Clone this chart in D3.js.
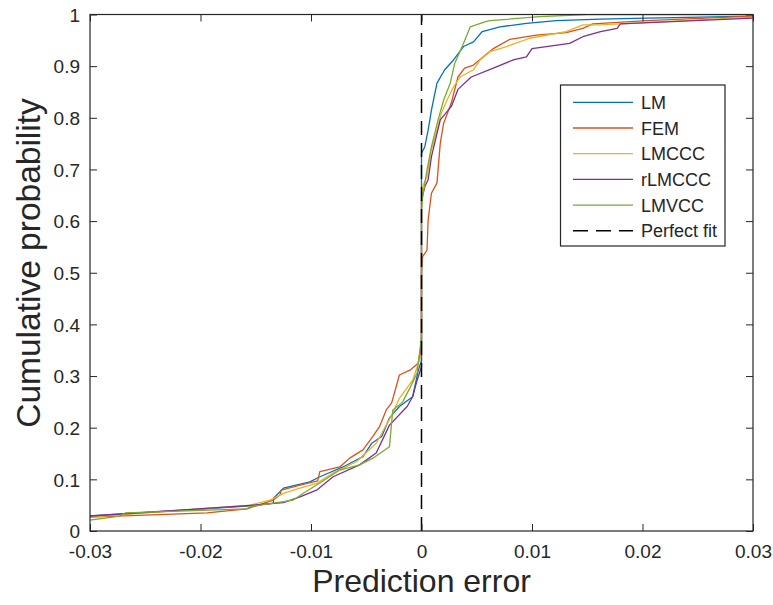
<!DOCTYPE html>
<html><head><meta charset="utf-8">
<script src="https://cdn.jsdelivr.net/npm/d3@7"></script>
<style>
body{margin:0;background:#fff}
svg{display:block}
text{font-family:"Liberation Sans",Arial,Helvetica,sans-serif;fill:#262626}
</style>
</head><body>
<svg id="chart" width="773" height="605"></svg>
<script>
// ---- data ----
const seriesNames = ["LM", "FEM", "LMCCC", "rLMCCC", "LMVCC"];
const seriesColors = ["#0072BD", "#D95319", "#EDB120", "#7E2F8E", "#77AC30"];

const LM = [[-0.03,0.029],[-0.0158,0.048],[-0.0134,0.054],[-0.0134,0.063],[-0.0125,0.083],[-0.0101,0.095],[-0.0092,0.105],[-0.0071,0.124],[-0.0062,0.134],[-0.0053,0.144],[-0.0045,0.170],[-0.0036,0.183],[-0.0029,0.219],[-0.0020,0.241],[-0.0008,0.260],[-0.0003,0.310],[0.0,0.33],[0.0,0.731],[0.0003,0.744],[0.0006,0.776],[0.0009,0.815],[0.0014,0.867],[0.0021,0.893],[0.0029,0.912],[0.0038,0.938],[0.0047,0.947],[0.0055,0.967],[0.0071,0.976],[0.0095,0.983],[0.0122,0.988],[0.0162,0.991],[0.0204,0.993],[0.03,0.997]];

const FEM = [[-0.03,0.027],[-0.0194,0.035],[-0.0158,0.043],[-0.0134,0.060],[-0.0128,0.070],[-0.0127,0.079],[-0.0110,0.089],[-0.0094,0.097],[-0.0092,0.115],[-0.0074,0.124],[-0.0065,0.141],[-0.0053,0.157],[-0.0044,0.183],[-0.0038,0.202],[-0.0032,0.234],[-0.0027,0.248],[-0.0020,0.302],[-0.0010,0.312],[-0.0003,0.325],[-0.0001,0.350],[0.0,0.370],[0.0,0.500],[0.0001,0.531],[0.0005,0.544],[0.0006,0.602],[0.0009,0.654],[0.0014,0.674],[0.0017,0.751],[0.0020,0.789],[0.0027,0.829],[0.0033,0.879],[0.0039,0.896],[0.0047,0.902],[0.0056,0.918],[0.0065,0.934],[0.0080,0.952],[0.0104,0.960],[0.0131,0.965],[0.0146,0.973],[0.0155,0.982],[0.0204,0.988],[0.03,0.997]];

const LMCCC = [[-0.03,0.027],[-0.0155,0.050],[-0.0137,0.060],[-0.0125,0.073],[-0.0110,0.083],[-0.0095,0.092],[-0.0080,0.112],[-0.0059,0.134],[-0.0041,0.170],[-0.0026,0.228],[-0.0020,0.257],[-0.0008,0.292],[-0.0001,0.337],[0.0,0.350],[0.0,0.640],[0.0001,0.667],[0.0005,0.686],[0.0009,0.740],[0.0010,0.744],[0.0018,0.809],[0.0023,0.834],[0.0029,0.860],[0.0035,0.879],[0.0047,0.893],[0.0053,0.912],[0.0062,0.928],[0.0077,0.938],[0.0098,0.954],[0.0131,0.967],[0.0146,0.980],[0.0162,0.980],[0.03,0.995]];

const rLMCCC = [[-0.03,0.029],[-0.0158,0.049],[-0.0125,0.055],[-0.0110,0.066],[-0.0095,0.079],[-0.0080,0.105],[-0.0056,0.128],[-0.0041,0.151],[-0.0029,0.205],[-0.0013,0.241],[-0.0008,0.260],[-0.0004,0.292],[0.0,0.318],[0.0,0.640],[0.0003,0.667],[0.0006,0.680],[0.0009,0.725],[0.0017,0.796],[0.0027,0.822],[0.0033,0.855],[0.0045,0.879],[0.0065,0.896],[0.0083,0.912],[0.0095,0.918],[0.0100,0.934],[0.0134,0.944],[0.0146,0.957],[0.0162,0.967],[0.0177,0.973],[0.0180,0.982],[0.03,0.993]];

const LMVCC = [[-0.03,0.021],[-0.0273,0.029],[-0.0268,0.035],[-0.0158,0.043],[-0.0155,0.047],[-0.0125,0.057],[-0.0116,0.060],[-0.0107,0.073],[-0.0092,0.093],[-0.0074,0.118],[-0.0056,0.128],[-0.0044,0.141],[-0.0029,0.163],[-0.0026,0.234],[-0.0017,0.250],[-0.0010,0.279],[-0.0004,0.306],[-0.0001,0.357],[0.0,0.380],[0.0,0.620],[0.0001,0.647],[0.0005,0.699],[0.0009,0.744],[0.0012,0.770],[0.0015,0.796],[0.0020,0.834],[0.0026,0.867],[0.0030,0.905],[0.0038,0.944],[0.0044,0.976],[0.0058,0.986],[0.0062,0.988],[0.0107,0.996],[0.0150,1.0],[0.03,1.0]];

const seriesData = [LM, FEM, LMCCC, rLMCCC, LMVCC];
const perfectFit = [[0,0],[0,1]];

const xTicks = [-0.03, -0.02, -0.01, 0, 0.01, 0.02, 0.03];
const xTickLabels = ["-0.03", "-0.02", "-0.01", "0", "0.01", "0.02", "0.03"];
const yTicks = [0, 0.1, 0.2, 0.3, 0.4, 0.5, 0.6, 0.7, 0.8, 0.9, 1];
const yTickLabels = ["0", "0.1", "0.2", "0.3", "0.4", "0.5", "0.6", "0.7", "0.8", "0.9", "1"];
const xLabel = "Prediction error";
const yLabel = "Cumulative probability";
const legendNames = ["LM", "FEM", "LMCCC", "rLMCCC", "LMVCC", "Perfect fit"];

// ---- layout ----
const L = 90, R = 753, T = 14.5, B = 531;
const svg = d3.select("#chart");
const x = d3.scaleLinear().domain([-0.03, 0.03]).range([L, R]);
const y = d3.scaleLinear().domain([0, 1]).range([B, T]);
const axisColor = "#262626";
const tickLen = 7;
const tickFont = "19px";

svg.append("defs").append("clipPath").attr("id", "clip")
  .append("rect").attr("x", L).attr("y", T).attr("width", R - L).attr("height", B - T);

const line = d3.line().x(d => x(d[0])).y(d => y(d[1]));
const plot = svg.append("g").attr("clip-path", "url(#clip)");
seriesData.forEach((s, i) => {
  plot.append("path").datum(s).attr("d", line)
    .attr("fill", "none").attr("stroke", seriesColors[i])
    .attr("stroke-width", 1.3).attr("stroke-linejoin", "round");
});
plot.append("path").datum(perfectFit).attr("d", line)
  .attr("fill", "none").attr("stroke", "#000").attr("stroke-width", 1.5)
  .attr("stroke-dasharray", "14,8");

// axes
function styleAxis(g) {
  g.select(".domain").remove();
  g.selectAll(".tick line").attr("stroke", axisColor).attr("stroke-width", 1);
  g.selectAll(".tick text").attr("fill", axisColor).style("font-size", tickFont)
    .style("font-family", "'Liberation Sans',Arial,Helvetica,sans-serif");
}
svg.append("g").attr("transform", `translate(0,${B})`)
  .call(d3.axisBottom(x).tickValues(xTicks).tickFormat((d, i) => xTickLabels[i])
    .tickSizeInner(-tickLen).tickSizeOuter(0).tickPadding(14))
  .call(styleAxis);
svg.append("g").attr("transform", `translate(0,${T})`)
  .call(d3.axisTop(x).tickValues(xTicks).tickFormat("").tickSizeInner(-tickLen).tickSizeOuter(0))
  .call(styleAxis);
const yAxisG = svg.append("g").attr("transform", `translate(${L},0)`)
  .call(d3.axisLeft(y).tickValues(yTicks).tickFormat((d, i) => yTickLabels[i])
    .tickSizeInner(-tickLen).tickSizeOuter(0).tickPadding(10))
  .call(styleAxis);
yAxisG.selectAll(".tick text").attr("dy", "0.36em");
svg.append("g").attr("transform", `translate(${R},0)`)
  .call(d3.axisRight(y).tickValues(yTicks).tickFormat("").tickSizeInner(-tickLen).tickSizeOuter(0))
  .call(styleAxis);

svg.append("rect").attr("x", L).attr("y", T).attr("width", R - L).attr("height", B - T)
  .attr("fill", "none").attr("stroke", axisColor).attr("stroke-width", 1.2);

// axis labels
svg.append("text").attr("x", (L + R) / 2).attr("y", 592).attr("text-anchor", "middle")
  .style("font-size", "32px").text(xLabel);
svg.append("text").attr("transform", `translate(40,263) rotate(-90)`)
  .attr("text-anchor", "middle").style("font-size", "33.5px").text(yLabel);

// legend
const lg = svg.append("g");
lg.append("rect").attr("x", 560.5).attr("y", 85).attr("width", 164.5).attr("height", 161)
  .attr("fill", "#fff").attr("stroke", axisColor).attr("stroke-width", 1.2);
const rowY0 = 102.3, rowDy = 25.7;
legendNames.forEach((name, i) => {
  const ry = rowY0 + i * rowDy;
  const ln = lg.append("line").attr("x1", 573).attr("x2", 633).attr("y1", ry).attr("y2", ry)
    .attr("stroke-width", i < 5 ? 1.3 : 1.5);
  if (i < 5) ln.attr("stroke", seriesColors[i]);
  else ln.attr("stroke", "#000").attr("stroke-dasharray", "15,8");
  lg.append("text").attr("x", 641).attr("y", ry + 6.5).style("font-size", "18px").text(name);
});
</script>
</body></html>
